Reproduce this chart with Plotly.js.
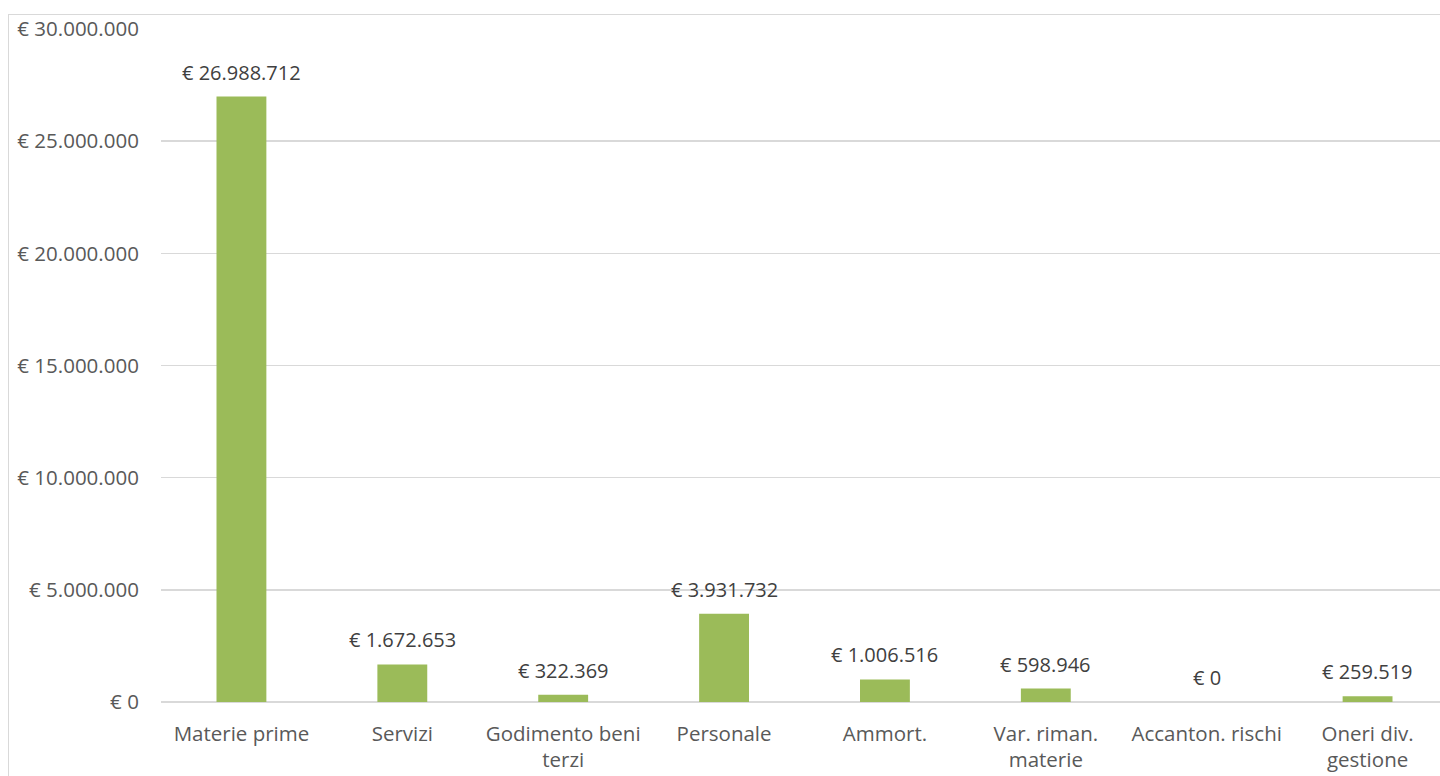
<!DOCTYPE html>
<html>
<head>
<meta charset="utf-8">
<script src="https://cdn.plot.ly/plotly-3.0.1.min.js"></script>
<style>
html,body{margin:0;padding:0;background:#fff;overflow:hidden;width:1440px;height:776px;}
#wrap{position:relative;width:1440px;height:776px;overflow:hidden;}
#chart{position:absolute;left:0;top:0;width:1470px;height:776px;}
#frame{position:absolute;left:8px;top:13.5px;width:1500px;height:800px;border:1.5px solid #d9d9d9;pointer-events:none;box-sizing:border-box;}
</style>
</head>
<body>
<div id="wrap"><div id="chart"></div><div id="frame"></div></div>
<script>
const categories = ["Materie prime", "Servizi", "Godimento beni<br>terzi", "Personale", "Ammort.", "Var. riman.<br>materie", "Accanton. rischi", "Oneri div.<br>gestione"];
const values = [26988712, 1672653, 322369, 3931732, 1006516, 598946, 0, 259519];
const yTicks = [0, 5000000, 10000000, 15000000, 20000000, 25000000, 30000000];

function fmtEuro(v){
  const s = Math.round(v).toString().replace(/\B(?=(\d{3})+(?!\d))/g, ".");
  return "€ " + s;
}

const fontFam = "Open Sans, sans-serif";
const txtColor = "#595959";

const trace = {
  type: "bar",
  x: categories,
  y: values,
  marker: {color: "#9BBB59"},
  hoverinfo: "skip"
};

const annotations = categories.map((c, i) => ({
  x: c, y: values[i], xref: "x", yref: "y",
  text: fmtEuro(values[i]),
  showarrow: false, yanchor: "bottom", yshift: 9,
  font: {family: fontFam, size: 20, color: "#404040"}
}));

const layout = {
  width: 1470, height: 776,
  margin: {l: 160.5, r: 21.5, t: 29, b: 74, pad: 0},
  paper_bgcolor: "rgba(0,0,0,0)",
  plot_bgcolor: "#fff",
  separators: ",.",
  showlegend: false,
  bargap: 0.69,
  font: {family: fontFam, size: 20, color: txtColor},
  xaxis: {
    type: "category",
    showgrid: false, showline: false, zeroline: false,
    ticks: "outside", ticklen: 13, tickcolor: "rgba(0,0,0,0)",
    tickfont: {family: fontFam, size: 20.5, color: txtColor},
    fixedrange: true
  },
  yaxis: {
    range: [0, 30000000],
    tickvals: yTicks,
    ticktext: yTicks.map(fmtEuro),
    showgrid: true, gridcolor: "#d9d9d9", gridwidth: 1.5,
    zeroline: true, zerolinecolor: "#d9d9d9", zerolinewidth: 1.5,
    showline: false,
    ticks: "outside", ticklen: 17, tickcolor: "rgba(0,0,0,0)",
    tickfont: {family: fontFam, size: 20.5, color: txtColor},
    fixedrange: true
  },
  annotations: annotations
};

Plotly.newPlot("chart", [trace], layout, {displayModeBar: false, staticPlot: true});
</script>
</body>
</html>
